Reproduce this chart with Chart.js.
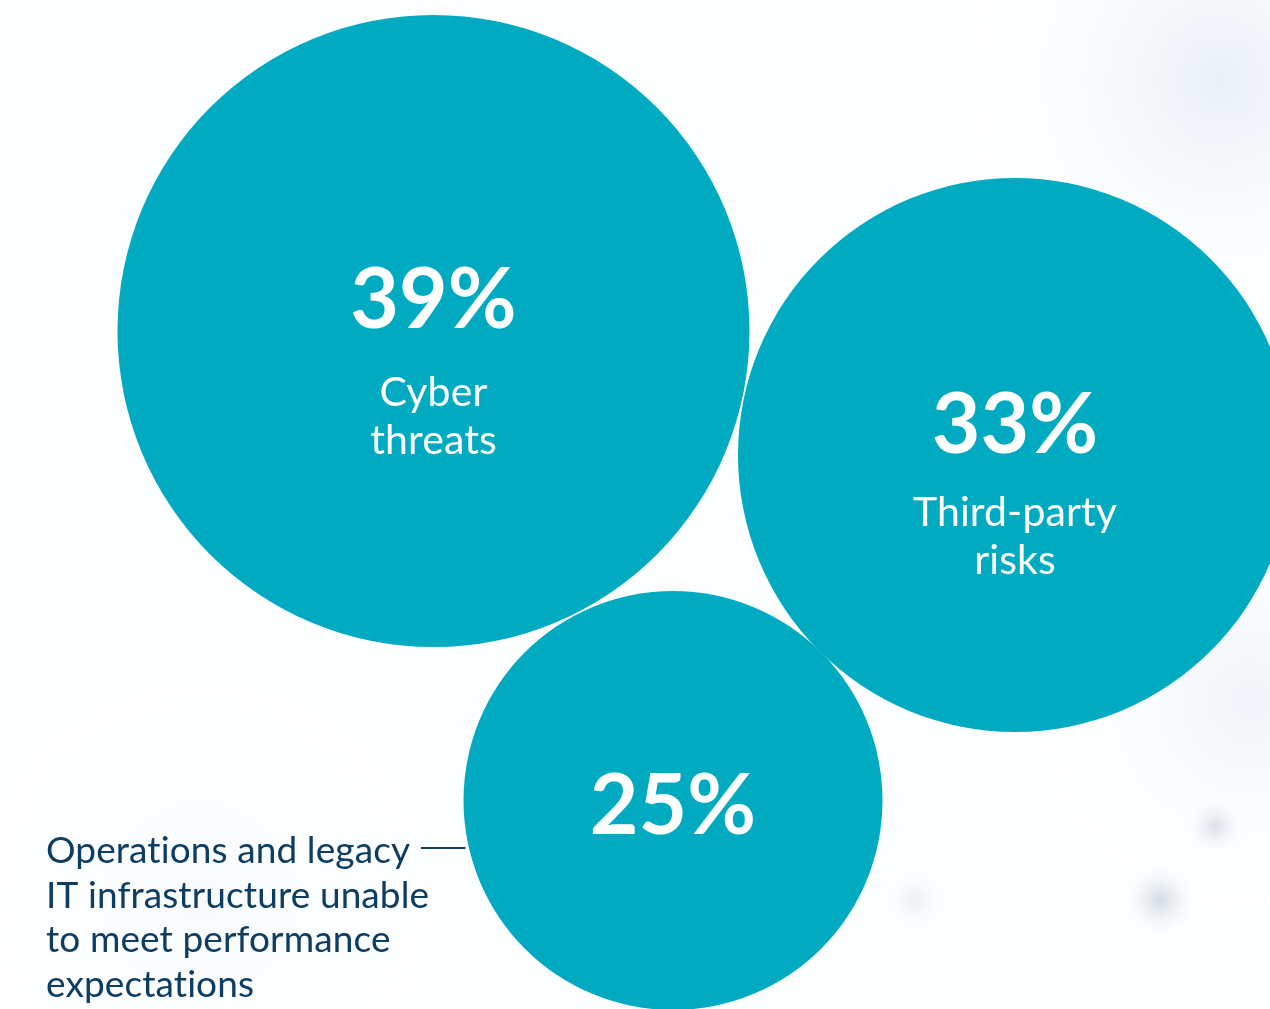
<!DOCTYPE html>
<html>
<head>
<meta charset="utf-8">
<script src="https://cdn.jsdelivr.net/npm/chart.js@4.4.1/dist/chart.umd.min.js"></script>
<style>
  html, body { margin: 0; padding: 0; background: #ffffff; overflow: hidden; }
  #wrap { position: relative; width: 1270px; height: 1009px; }
</style>
</head>
<body>
<div id="wrap"><canvas id="bubbles" width="1270" height="1009"></canvas></div>
<script>
// Dados do gráfico
const percents = [39, 33, 25];
const categories = [["Cyber", "threats"], ["Third-party", "risks"], []];
const outsideLabel = ["Operations and legacy", "IT infrastructure unable", "to meet performance", "expectations"];

// Layout (posições em pixels da página, raio de cada bolha)
const centerX = [433.5, 1015, 673];
const centerY = [331, 455, 800.5];
const radius = [316, 277, 209.5];
const pctOffset = [-3, -2, 33]; // deslocamento da linha de base do número
const catOffset = [75, 71, 0];  // deslocamento da primeira linha da categoria

const teal = '#00abc2';
const navy = '#0d3d63';

// Fundo claro com algumas manchas desfocadas (parecido com a foto de fundo)
const backgroundPlugin = {
    id: 'bgBlur',
    beforeDraw(chart) {
        const ctx = chart.ctx;
        ctx.save();
        ctx.fillStyle = '#fdfeff';
        ctx.fillRect(0, 0, chart.width, chart.height);
        const spots = [
            [1220, 80, 260, 'rgba(214,226,238,0.5)'],
            [1250, 700, 220, 'rgba(220,230,240,0.4)'],
            [1160, 900, 40, 'rgba(160,178,196,0.5)'],
            [1215, 826, 30, 'rgba(170,186,202,0.45)'],
            [915, 900, 40, 'rgba(200,210,220,0.3)'],
            [200, 900, 240, 'rgba(236,241,246,0.3)']
        ];
        spots.forEach(([x, y, r, c]) => {
            const g = ctx.createRadialGradient(x, y, 0, x, y, r);
            g.addColorStop(0, c);
            g.addColorStop(1, 'rgba(255,255,255,0)');
            ctx.fillStyle = g;
            ctx.fillRect(x - r, y - r, r * 2, r * 2);
        });
        ctx.restore();
    }
};

// Textos dentro das bolhas + rótulo externo com linha
const labelsPlugin = {
    id: 'bubbleText',
    afterDatasetsDraw(chart) {
        const ctx = chart.ctx;
        const meta = chart.getDatasetMeta(0);
        ctx.save();
        ctx.letterSpacing = '0.1px'; // evita a ligadura "ti" do Lato
        ctx.textAlign = 'center';
        ctx.textBaseline = 'alphabetic';
        ctx.fillStyle = '#ffffff';
        meta.data.forEach((el, i) => {
            ctx.font = 'bold 84px Lato';
            ctx.fillText(percents[i] + '%', el.x, el.y + pctOffset[i]);
            ctx.font = '41px Lato';
            categories[i].forEach((line, j) => {
                ctx.fillText(line, el.x, el.y + catOffset[i] + j * 47.5);
            });
        });

        // Rótulo da terceira bolha (fora do círculo)
        const el = meta.data[2];
        const r = radius[2];
        ctx.textAlign = 'left';
        ctx.fillStyle = navy;
        ctx.font = '37px Lato';
        outsideLabel.forEach((line, j) => {
            ctx.fillText(line, 46, el.y + 62.5 + j * 44.5);
        });
        ctx.strokeStyle = navy;
        ctx.lineWidth = 2;
        ctx.beginPath();
        ctx.moveTo(421, el.y + 47.5);
        ctx.lineTo(el.x - r + 2, el.y + 47.5);
        ctx.stroke();
        ctx.restore();
    }
};

const ctx = document.getElementById('bubbles').getContext('2d');
const myChart = new Chart(ctx, {
    type: 'bubble',
    data: {
        datasets: [{
            data: percents.map((p, i) => ({ x: centerX[i], y: centerY[i], r: radius[i], v: p })),
            backgroundColor: teal,
            borderWidth: 0,
            hoverBorderWidth: 0,
            clip: false
        }]
    },
    options: {
        responsive: false,
        animation: false,
        events: [],
        layout: { padding: 0, autoPadding: false },
        plugins: {
            legend: { display: false },
            tooltip: { enabled: false }
        },
        scales: {
            x: { type: 'linear', min: 0, max: 1270, display: false },
            y: { type: 'linear', min: 0, max: 1009, reverse: true, display: false }
        }
    },
    plugins: [backgroundPlugin, labelsPlugin]
});
</script>
</body>
</html>
